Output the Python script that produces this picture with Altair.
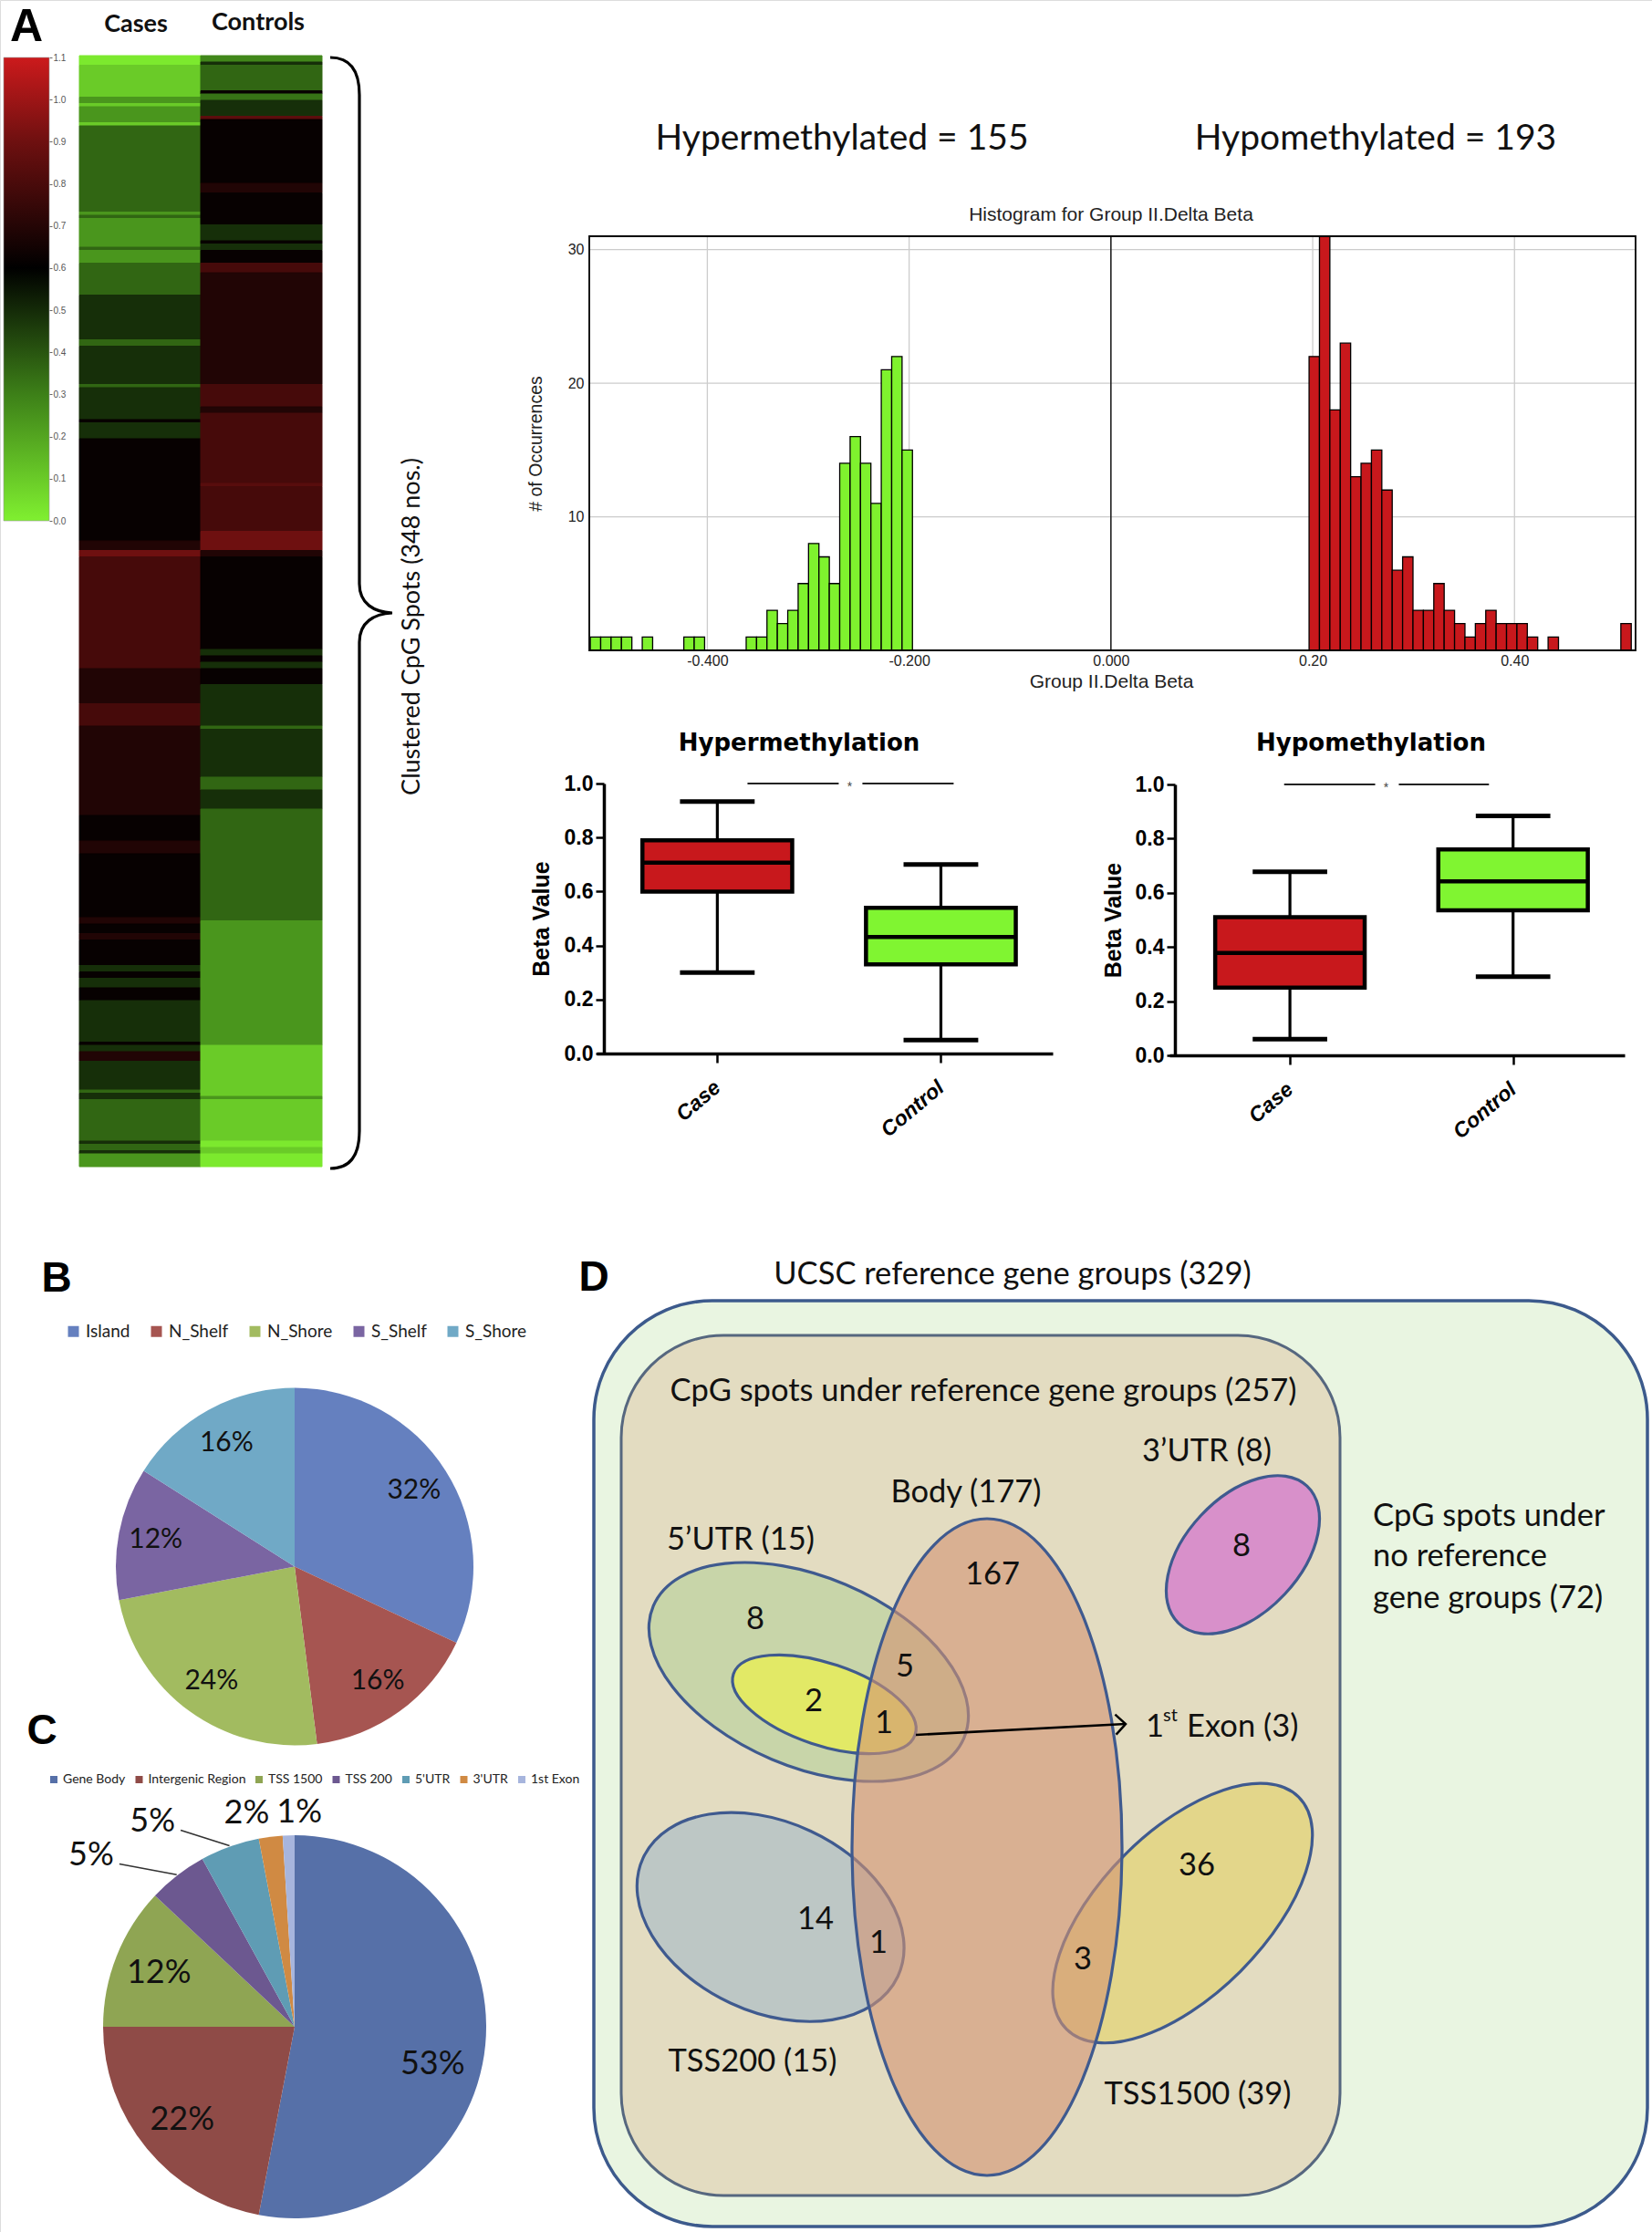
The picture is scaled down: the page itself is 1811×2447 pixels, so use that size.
import altair as alt
import pandas as pd

W, H = 1811, 2447
CAL = "Lato, 'Open Sans', sans-serif"
ARIAL = "'Liberation Sans', Arial, sans-serif"
BOXF = "'DejaVu Sans', sans-serif"
INK = "#111111"
RED = "#c8181c"
GREEN = "#80f531"

# ====================== DATA ======================
# Panel A heat map: runs of consecutive CpG spots (top -> bottom) and their beta value
HEAT_COLUMNS = ["Cases", "Controls"]
N_SPOTS = 348
CASE_RUN_ROWS = [3, 10, 2, 1, 5, 1, 27, 1, 1, 9, 1, 4, 10, 14, 2, 12, 1, 10, 1, 5,
                 32, 3, 2, 35, 11, 7, 28, 8, 4, 20, 2, 3, 2, 8, 2, 2, 3, 4, 13, 1,
                 2, 3, 9, 1, 2, 13, 1, 2, 1, 4]
CASE_RUN_VALUES = [0.02, 0.10, 0.24, 0.10, 0.24, 0.10, 0.36, 0.24, 0.36, 0.24,
                   0.36, 0.24, 0.36, 0.49, 0.36, 0.49, 0.36, 0.49, 0.62, 0.49,
                   0.62, 0.69, 0.90, 0.79, 0.69, 0.79, 0.69, 0.62, 0.69, 0.62,
                   0.69, 0.62, 0.69, 0.62, 0.49, 0.62, 0.49, 0.62, 0.49, 0.62,
                   0.49, 0.69, 0.49, 0.36, 0.49, 0.36, 0.49, 0.36, 0.49, 0.24]
CTRL_RUN_ROWS = [2, 1, 8, 1, 2, 5, 1, 20, 3, 10, 5, 1, 2, 4, 3, 35, 7, 2, 22, 1,
                 14, 6, 2, 29, 2, 2, 2, 5, 13, 1, 15, 4, 6, 35, 39, 16, 1, 13, 2, 2, 4]
CTRL_RUN_VALUES = [0.28, 0.49, 0.36, 0.62, 0.33, 0.49, 0.85, 0.62, 0.69, 0.62,
                   0.49, 0.62, 0.49, 0.62, 0.79, 0.69, 0.79, 0.69, 0.79, 0.84,
                   0.79, 0.90, 0.69, 0.62, 0.49, 0.62, 0.49, 0.62, 0.49, 0.36,
                   0.49, 0.36, 0.49, 0.36, 0.24, 0.10, 0.24, 0.10, 0.02, 0.10, 0.02]
COLORBAR_STOPS = [0.0, 0.3, 0.6, 0.9, 1.1]
COLORBAR_COLORS = ["#80f030", "#3d8018", "#000000", "#6e1010", "#cc1a1c"]
COLORBAR_TICKS = [0.0, 0.1, 0.2, 0.3, 0.4, 0.5, 0.6, 0.7, 0.8, 0.9, 1.0, 1.1]

# Histogram of Group II delta beta
HIST_BIN_WIDTH = 0.0103
HYPER_FIRST_BIN = -0.516
HYPO_FIRST_BIN = 0.1964
HYPER_COUNTS = [1, 1, 1, 1, 0, 1, 0, 0, 0, 1, 1, 0, 0, 0, 0, 1, 1, 3, 2, 3, 5, 8, 7, 5,
                14, 16, 14, 11, 21, 22, 15]
HYPO_COUNTS = [22, 31, 18, 23, 13, 14, 15, 12, 6, 7, 3, 3, 5, 3, 2, 1, 2, 3, 2, 2, 2, 1,
               0, 1, 0, 0, 0, 0, 0, 0, 2]
HIST_X_TICKS = [-0.4, -0.2, 0.0, 0.2, 0.4]
HIST_X_LABELS = ["-0.400", "-0.200", "0.000", "0.20", "0.40"]
HIST_Y_TICKS = [10, 20, 30]
HIST_X_DOMAIN = [-0.517, 0.52]
HIST_Y_DOMAIN = [0, 31]

# Box plots (whisker low, Q1, median, Q3, whisker high) for Case / Control
BOX_GROUPS = ["Case", "Control"]
HYPER_BOX = {"lo": [0.30, 0.05], "q1": [0.60, 0.33], "med": [0.707, 0.432],
             "q3": [0.79, 0.54], "hi": [0.933, 0.70]}
HYPO_BOX = {"lo": [0.06, 0.29], "q1": [0.25, 0.535], "med": [0.378, 0.642],
            "q3": [0.51, 0.76], "hi": [0.678, 0.884]}
BOX_Y_TICKS = [0.0, 0.2, 0.4, 0.6, 0.8, 1.0]

# Pie B and pie C
B_CATS = ["Island", "N_Shelf", "N_Shore", "S_Shelf", "S_Shore"]
B_PCT = [32, 16, 24, 12, 16]
B_COLORS = ["#6580bf", "#a65551", "#a2bb60", "#7a65a2", "#70a9c6"]
C_CATS = ["Gene Body", "Intergenic Region", "TSS 1500", "TSS 200", "5'UTR", "3'UTR", "1st Exon"]
C_PCT = [53, 22, 12, 5, 5, 2, 1]
C_COLORS = ["#5670a8", "#8f4b47", "#8fa553", "#6c5890", "#5f9cb4", "#d08a43", "#a7b5dd"]

# Venn D: set totals and region counts
SET_TOTALS = {"UCSC": 329, "REF": 257, "NOREF": 72, "UTR3": 8, "BODY": 177,
              "UTR5": 15, "TSS200": 15, "TSS1500": 39, "EXON": 3}
REGION_COUNTS = {"utr3": 8, "body": 167, "utr5": 8, "utr5_body": 5, "exon": 2,
                 "exon_body": 1, "tss200": 14, "tss200_body": 1, "tss1500": 36,
                 "tss1500_body": 3}


# ====================== HELPERS ======================
def lin(dom, rng):
    return alt.Scale(domain=dom, range=rng, zero=False, nice=False)


ONE = pd.DataFrame({"k": [0]})


def label(text, x, y, size, font=CAL, weight="normal", align="center",
          baseline="middle", angle=None, color=INK, style="normal"):
    props = dict(text=text, font=font, fontSize=size, fontWeight=weight, align=align,
                 baseline=baseline, color=color, fontStyle=style)
    if angle is not None:
        props["angle"] = angle
    return alt.Chart(ONE).mark_text(**props).encode(x=alt.value(x), y=alt.value(y))


layers = []

# ====================== PANEL A ======================
heat_rows = []
for ci, (rows, vals) in enumerate([(CASE_RUN_ROWS, CASE_RUN_VALUES),
                                   (CTRL_RUN_ROWS, CTRL_RUN_VALUES)]):
    start = 0
    for n, v in zip(rows, vals):
        heat_rows.append({"col": HEAT_COLUMNS[ci], "c0": ci, "c1": ci + 1,
                          "r0": start, "r1": start + n, "beta": v})
        start += n
heat_df = pd.DataFrame(heat_rows)
heat_color = alt.Scale(domain=COLORBAR_STOPS, range=COLORBAR_COLORS, interpolate="rgb")
layers.append(alt.Chart(heat_df).mark_rect(strokeWidth=1).encode(
    x=alt.X("c0:Q", scale=lin([0, 2], [87, 353]), axis=None), x2="c1",
    y=alt.Y("r0:Q", scale=lin([0, N_SPOTS], [61, 1279]), axis=None), y2="r1",
    color=alt.Color("beta:Q", scale=heat_color, legend=None),
    stroke=alt.Stroke("beta:Q", scale=heat_color, legend=None),
))

grad = alt.LinearGradient(
    gradient="linear", x1=0, x2=0, y1=1, y2=0,
    stops=[alt.GradientStop(offset=s / COLORBAR_STOPS[-1], color=c)
           for s, c in zip(COLORBAR_STOPS, COLORBAR_COLORS)])
layers.append(alt.Chart(pd.DataFrame({"lo": [0.0], "hi": [1.1]})).mark_rect(
    fill=grad, stroke="#999999", strokeWidth=0.6).encode(
    x=alt.value(4), x2=alt.value(54),
    y=alt.Y("lo:Q", scale=lin([0, 1.1], [571, 63]),
            axis=alt.Axis(orient="right", offset=54 - W, values=COLORBAR_TICKS, format=".1f",
                          grid=False, domain=False, tickSize=3, tickColor="#666666",
                          labelPadding=1, labelFont=ARIAL, labelFontSize=10,
                          labelColor="#555555", title=None, labelFlush=False,
                          labelOverlap=False)),
    y2="hi",
))

# curly brace as a custom symbol path (unit = 610 px)
brace_cmds = [("M", [(-34, -609)]), ("C", [(-12, -609), (-2, -595), (-2, -568)]),
              ("L", [(-2, -32)]), ("C", [(-2, -10), (14, -1), (34, 0)]),
              ("C", [(14, 1), (-2, 10), (-2, 32)]), ("L", [(-2, 568)]),
              ("C", [(-2, 595), (-12, 609), (-34, 609)])]
brace_path = "".join(cmd + " ".join(f"{x / 610:.4f},{y / 610:.4f}" for x, y in pts)
                     for cmd, pts in brace_cmds)
layers.append(alt.Chart(ONE).mark_point(shape=brace_path, filled=False, color="black",
                                        stroke="black", strokeWidth=3.2, size=1220 ** 2,
                                        opacity=1).encode(x=alt.value(396), y=alt.value(672)))
layers.append(label(f"Clustered CpG Spots ({N_SPOTS} nos.)", 452, 687, 27, angle=270))
layers.append(label(HEAT_COLUMNS[0], 149, 27, 27, weight="bold"))
layers.append(label(HEAT_COLUMNS[1], 283, 25, 27, weight="bold"))
layers.append(label("A", 29, 30, 50, font=ARIAL, weight="bold", color="black"))

# ====================== HISTOGRAM ======================
layers.append(label(f"Hypermethylated = {sum(HYPER_COUNTS)}", 923, 152, 39))
layers.append(label(f"Hypomethylated = {sum(HYPO_COUNTS)}", 1508, 152, 39))
layers.append(label("Histogram for Group II.Delta Beta", 1218, 236, 21, font=ARIAL,
                    color="#222222"))


def hx():
    return lin(HIST_X_DOMAIN, [646, 1793])


def hy():
    return lin(HIST_Y_DOMAIN, [713, 259])


bin_rows = []
for first, counts, col in [(HYPER_FIRST_BIN, HYPER_COUNTS, "#7ff22e"),
                           (HYPO_FIRST_BIN, HYPO_COUNTS, RED)]:
    for i, n in enumerate(counts):
        if n > 0:
            bin_rows.append({"x0": first + i * HIST_BIN_WIDTH,
                             "x1": first + (i + 1) * HIST_BIN_WIDTH,
                             "n": n, "base": 0, "c": col})
bins_df = pd.DataFrame(bin_rows)
x_label_expr = " : ".join(
    f"abs(datum.value - ({v})) < 0.001 ? '{s}'" for v, s in zip(HIST_X_TICKS, HIST_X_LABELS)) + " : ''"
hist_xax = alt.Axis(orient="bottom", offset=713 - H, values=HIST_X_TICKS, labelExpr=x_label_expr,
                    grid=False, domain=False, ticks=False, labelPadding=3, labelFont=ARIAL,
                    labelFontSize=16, labelColor="#222222", labelFlush=False, labelOverlap=False,
                    title="Group II.Delta Beta", titleFont=ARIAL, titleFontSize=21,
                    titleFontWeight="normal", titleColor="#222222", titleX=1218, titleY=34,
                    titleBaseline="middle", titleAlign="center")
hist_yax = alt.Axis(orient="left", offset=-646, values=HIST_Y_TICKS, format="d", grid=False,
                    domain=False, ticks=False, labelPadding=6, labelFont=ARIAL, labelFontSize=16,
                    labelColor="#222222", labelFlush=False, title="# of Occurrences",
                    titleFont=ARIAL, titleFontSize=19.5, titleFontWeight="normal",
                    titleColor="#222222", titleX=587 - 646, titleY=486, titleAngle=270,
                    titleBaseline="middle", titleAlign="center")
gx = pd.DataFrame({"v": [t for t in HIST_X_TICKS if t != 0], "y0": HIST_Y_DOMAIN[0],
                   "y1": HIST_Y_DOMAIN[1]})
gy = pd.DataFrame({"v": HIST_Y_TICKS, "x0": HIST_X_DOMAIN[0], "x1": HIST_X_DOMAIN[1]})
gz = pd.DataFrame({"v": [0.0], "y0": [HIST_Y_DOMAIN[0]], "y1": [HIST_Y_DOMAIN[1]]})
gf = pd.DataFrame({"x0": [HIST_X_DOMAIN[0]], "x1": [HIST_X_DOMAIN[1]],
                   "y0": [HIST_Y_DOMAIN[0]], "y1": [HIST_Y_DOMAIN[1]]})
layers += [
    alt.Chart(gx).mark_rule(color="#cccccc", strokeWidth=1.3).encode(
        x=alt.X("v:Q", scale=hx(), axis=None), y=alt.Y("y0:Q", scale=hy(), axis=None), y2="y1"),
    alt.Chart(gy).mark_rule(color="#cccccc", strokeWidth=1.3).encode(
        x=alt.X("x0:Q", scale=hx(), axis=None), x2="x1", y=alt.Y("v:Q", scale=hy(), axis=None)),
    alt.Chart(gz).mark_rule(color="#222222", strokeWidth=1.6).encode(
        x=alt.X("v:Q", scale=hx(), axis=None), y=alt.Y("y0:Q", scale=hy(), axis=None), y2="y1"),
    alt.Chart(bins_df).mark_rect(stroke="black", strokeWidth=1.3).encode(
        x=alt.X("x0:Q", scale=hx(), axis=hist_xax), x2="x1",
        y=alt.Y("n:Q", scale=hy(), axis=hist_yax), y2="base",
        fill=alt.Fill("c:N", scale=None)),
    alt.Chart(gf).mark_rect(fill="white", fillOpacity=0, stroke="black", strokeWidth=1.8).encode(
        x=alt.X("x0:Q", scale=hx(), axis=None), x2="x1",
        y=alt.Y("y0:Q", scale=hy(), axis=None), y2="y1"),
]

# ====================== BOX PLOTS ======================
BOX_HALF = 0.335
CAP_HALF = 0.167
box_label_expr = " : ".join(f"datum.value == {i} ? '{g}'" for i, g in enumerate(BOX_GROUPS)) + " : ''"


def box_panel(stats, x_lo, x_hi, yaxis_x, y_bot, y_top, sig0, sig1, star, ytitle_x):
    def xs():
        return lin([-0.54, 1.50], [x_lo, x_hi])

    def ys():
        return lin([0, 1], [y_bot, y_top])

    df = pd.DataFrame({"g": list(range(len(BOX_GROUPS))), "grp": BOX_GROUPS,
                       "lo": stats["lo"], "q1": stats["q1"], "med": stats["med"],
                       "q3": stats["q3"], "hi": stats["hi"], "fill": [RED, GREEN]})
    df["b0"] = df.g - BOX_HALF
    df["b1"] = df.g + BOX_HALF
    df["c0"] = df.g - CAP_HALF
    df["c1"] = df.g + CAP_HALF
    xax = alt.Axis(orient="bottom", offset=y_bot - H, values=[0, 1], labelExpr=box_label_expr,
                   labelAngle=320, labelAlign="right", labelBaseline="middle", labelPadding=24,
                   labelFont=ARIAL, labelFontStyle="italic", labelFontWeight="bold",
                   labelFontSize=23, labelColor="black", domainColor="black", domainWidth=3.5,
                   tickColor="black", tickWidth=2.5, tickSize=10, grid=False, title=None,
                   labelFlush=False, labelOverlap=False)
    yax = alt.Axis(orient="left", offset=-yaxis_x, values=BOX_Y_TICKS, format=".1f", grid=False,
                   domainColor="black", domainWidth=3.5, tickColor="black", tickWidth=2.5,
                   tickSize=9, labelPadding=3, labelFont=ARIAL, labelFontWeight="bold",
                   labelFontSize=23, labelColor="black", labelFlush=False,
                   title="Beta Value", titleFont=ARIAL, titleFontSize=25, titleFontWeight="bold",
                   titleColor="black", titleX=ytitle_x - yaxis_x, titleY=(y_bot + y_top) / 2,
                   titleAngle=270, titleBaseline="middle", titleAlign="center")
    sig = pd.DataFrame({"s0": sig0, "s1": sig1, "yy": [1.0, 1.0]})
    st = pd.DataFrame({"s": [star], "yy": [1.0]})
    return [
        alt.Chart(df).mark_rule(color="black", strokeWidth=3.2).encode(
            x=alt.X("g:Q", scale=xs(), axis=xax), y=alt.Y("lo:Q", scale=ys(), axis=yax), y2="hi"),
        alt.Chart(df).mark_rect(stroke="black", strokeWidth=4.5).encode(
            x=alt.X("b0:Q", scale=xs(), axis=None), x2="b1",
            y=alt.Y("q1:Q", scale=ys(), axis=None), y2="q3", fill=alt.Fill("fill:N", scale=None)),
        alt.Chart(df).mark_rule(color="black", strokeWidth=4.5).encode(
            x=alt.X("b0:Q", scale=xs(), axis=None), x2="b1", y=alt.Y("med:Q", scale=ys(), axis=None)),
        alt.Chart(df).mark_rule(color="black", strokeWidth=5).encode(
            x=alt.X("c0:Q", scale=xs(), axis=None), x2="c1", y=alt.Y("lo:Q", scale=ys(), axis=None)),
        alt.Chart(df).mark_rule(color="black", strokeWidth=5).encode(
            x=alt.X("c0:Q", scale=xs(), axis=None), x2="c1", y=alt.Y("hi:Q", scale=ys(), axis=None)),
        alt.Chart(sig).mark_rule(color="#222222", strokeWidth=1.8).encode(
            x=alt.X("s0:Q", scale=xs(), axis=None), x2="s1", y=alt.Y("yy:Q", scale=ys(), axis=None)),
        alt.Chart(st).mark_text(text="*", fontSize=14, color="#444444", font=ARIAL, dy=4).encode(
            x=alt.X("s:Q", scale=xs(), axis=None), y=alt.Y("yy:Q", scale=ys(), axis=None)),
    ]


layers += box_panel(HYPER_BOX, 654, 1154, 662, 1155, 859, [0.135, 0.649], [0.543, 1.057],
                    0.592, 593)
layers += box_panel(HYPO_BOX, 1282, 1781, 1288, 1157, 860, [-0.026, 0.488], [0.382, 0.892],
                    0.431, 1220)
layers.append(label("Hypermethylation", 876, 815, 26, font=BOXF, weight="bold", color="black"))
layers.append(label("Hypomethylation", 1503, 815, 26, font=BOXF, weight="bold", color="black"))

# ====================== PIE B ======================
dfB = pd.DataFrame({"cat": B_CATS, "pct": B_PCT, "idx": list(range(len(B_CATS)))})
B_CX, B_CY, B_R = 323, 1717.5, 196
layers.append(alt.Chart(dfB).mark_arc().encode(
    theta=alt.Theta("pct:Q", stack=True), order=alt.Order("idx:Q"),
    color=alt.Color("cat:N", scale=alt.Scale(domain=B_CATS, range=B_COLORS),
                    legend=alt.Legend(orient="none", legendX=71, legendY=1450,
                                      direction="horizontal", title=None, symbolType="square",
                                      symbolSize=144, symbolStrokeWidth=0, labelFont=CAL,
                                      labelFontSize=19, labelColor="#222222", labelOffset=4,
                                      columnPadding=19, padding=0, labelLimit=0)),
    x=alt.value(B_CX), y=alt.value(B_CY), radius=alt.value(B_R),
))
layers.append(alt.Chart(dfB).transform_calculate(lab="datum.pct + '%'").mark_text(
    font=CAL, fontSize=30, color=INK).encode(
    theta=alt.Theta("pct:Q", stack=True), order=alt.Order("idx:Q"), text="lab:N",
    x=alt.value(B_CX), y=alt.value(B_CY), radius=alt.value(155),
))
layers.append(label("B", 62, 1402, 46, font=ARIAL, weight="bold", color="black"))

# ====================== PIE C ======================
dfC = pd.DataFrame({"cat": C_CATS, "pct": C_PCT, "idx": list(range(len(C_CATS)))})
C_CX, C_CY, C_R = 323, 2222, 210
layers.append(alt.Chart(dfC).mark_arc().encode(
    theta=alt.Theta("pct:Q", stack=True), order=alt.Order("idx:Q"),
    color=alt.Color("cat:N", scale=alt.Scale(domain=C_CATS, range=C_COLORS),
                    legend=alt.Legend(orient="none", legendX=52, legendY=1944,
                                      direction="horizontal", title=None, symbolType="square",
                                      symbolSize=64, symbolStrokeWidth=0, labelFont=CAL,
                                      labelFontSize=14, labelColor="#222222", labelOffset=3,
                                      columnPadding=7.5, padding=0, labelLimit=0)),
    x=alt.value(C_CX), y=alt.value(C_CY), radius=alt.value(C_R),
))


def pieC_labels(filter_expr, radius, align, dx, dy):
    return alt.Chart(dfC).transform_calculate(lab="datum.pct + '%'").mark_text(
        font=CAL, fontSize=36, color=INK, align=align, dx=dx, dy=dy).encode(
        theta=alt.Theta("pct:Q", stack=True), order=alt.Order("idx:Q"),
        text=alt.Text("lab:N"),
        opacity=alt.condition(filter_expr, alt.value(1), alt.value(0)),
        x=alt.value(C_CX), y=alt.value(C_CY), radius=alt.value(radius),
    )


layers.append(pieC_labels("datum.pct >= 10 && datum.pct < 50", 160, "center", 0, 0))
layers.append(pieC_labels("datum.pct >= 50", 160, "center", -8, 26))
layers.append(pieC_labels("datum.pct == 5", 245, "right", -48, 6))
layers.append(pieC_labels("datum.cat == '3\\'UTR'", 245, "right", 3, 9))
layers.append(pieC_labels("datum.cat == '1st Exon'", 245, "left", -12, 10))

layers.append(alt.Chart(dfC).transform_window(
    cum="sum(pct)", sort=[alt.SortField("idx")], frame=[None, 0]
).transform_calculate(
    mid="(datum.cum - datum.pct / 2) / 100 * 2 * PI"
).transform_filter("datum.pct == 5").transform_calculate(
    lx=f"{C_CX} + 245 * sin(datum.mid) - 42",
    ly=f"{C_CY} - 245 * cos(datum.mid) + 15",
    ex=f"{C_CX} + {C_R + 1} * sin(datum.mid)",
    ey=f"{C_CY} - {C_R + 1} * cos(datum.mid)",
).mark_rule(color="#333333", strokeWidth=1.6).encode(
    x=alt.X("lx:Q", scale=None, axis=None), x2="ex",
    y=alt.Y("ly:Q", scale=None, axis=None), y2="ey",
))
layers.append(label("C", 46, 1898, 46, font=ARIAL, weight="bold", color="black"))

# ====================== VENN D ======================
def vx():
    return lin([0, W], [0, W])


def vy():
    return lin([0, H], [0, H])


outer = pd.DataFrame({"x0": [651], "x1": [1806], "y0": [1426], "y1": [2441],
                      "fill": ["#e9f5e1"], "stroke": ["#3c5a8c"]})
inner = pd.DataFrame({"x0": [681], "x1": [1469], "y0": [1464], "y1": [2407],
                      "fill": ["#e3dcc1"], "stroke": ["#56677f"]})
for box_df, rad, sw in [(outer, 130, 3.5), (inner, 112, 3)]:
    layers.append(alt.Chart(box_df).mark_rect(cornerRadius=rad, strokeWidth=sw).encode(
        x=alt.X("x0:Q", scale=vx(), axis=None), x2="x1",
        y=alt.Y("y0:Q", scale=vy(), axis=None), y2="y1",
        fill=alt.Fill("fill:N", scale=None), stroke=alt.Stroke("stroke:N", scale=None)))

K = 0.5523


def ellipse_path(r):
    return (f"M1,0C1,{K * r:.4f},{K:.4f},{r:.4f},0,{r:.4f}"
            f"C{-K:.4f},{r:.4f},-1,{K * r:.4f},-1,0"
            f"C-1,{-K * r:.4f},{-K:.4f},{-r:.4f},0,{-r:.4f}"
            f"C{K:.4f},{-r:.4f},1,{-K * r:.4f},1,0Z")


# layout: (set, cx, cy, semi-major, semi-minor, rotation, fill, fill opacity)
ELLIPSES = [
    ("UTR3", 1362.5, 1704.5, 103, 63, 313, "#d890ca", 1.0),
    ("TSS200", 844.7, 2101.7, 154, 104, 25, "#bdc7c5", 1.0),
    ("TSS1500", 1296.4, 2097.4, 180, 90, 315, "#e3d68a", 1.0),
    ("UTR5", 886.5, 1833, 185, 104, 23, "#c8d5a9", 1.0),
    ("EXON", 903.6, 1868.5, 105, 45, 18.5, "#e2e966", 1.0),
    ("BODY", 1082, 2025, 360, 148, 90, "#d29373", 0.6),
]
ell_df = pd.DataFrame([{"set": s, "cx": cx, "cy": cy, "path": ellipse_path(b / a),
                        "size": (2 * a) ** 2, "ang": ang, "fill": f, "fo": fo}
                       for s, cx, cy, a, b, ang, f, fo in ELLIPSES])
layers.append(alt.Chart(ell_df).mark_point(filled=True, stroke="#3f5a8f", strokeWidth=3.2,
                                           opacity=1).encode(
    x=alt.X("cx:Q", scale=vx(), axis=None), y=alt.Y("cy:Q", scale=vy(), axis=None),
    shape=alt.Shape("path:N", scale=None), size=alt.Size("size:Q", scale=None),
    angle=alt.Angle("ang:Q", scale=None), fill=alt.Fill("fill:N", scale=None),
    fillOpacity=alt.FillOpacity("fo:Q", scale=None),
))

arrow = pd.DataFrame({"x0": [1004], "x1": [1234], "y0": [1902], "y1": [1890]})
layers.append(alt.Chart(arrow).mark_rule(color="black", strokeWidth=2.5).encode(
    x=alt.X("x0:Q", scale=vx(), axis=None), x2="x1", y=alt.Y("y0:Q", scale=vy(), axis=None), y2="y1"))
layers.append(alt.Chart(arrow).mark_point(shape="M-1,-1L0,0L-1,1", filled=False, color="black",
                                          strokeWidth=2.5, size=484, angle=357, opacity=1).encode(
    x=alt.X("x1:Q", scale=vx(), axis=None), y=alt.Y("y1:Q", scale=vy(), axis=None)))

T = SET_TOTALS
R = REGION_COUNTS
venn_center = pd.DataFrame([
    (f"UCSC reference gene groups ({T['UCSC']})", 1110, 1398),
    (f"CpG spots under reference gene groups ({T['REF']})", 1078, 1526),
    (f"3’UTR ({T['UTR3']})", 1323, 1592),
    (str(R["utr3"]), 1361, 1696),
    (f"Body ({T['BODY']})", 1059, 1637),
    (str(R["body"]), 1088, 1727),
    (f"5’UTR ({T['UTR5']})", 812, 1689),
    (str(R["utr5"]), 828, 1776),
    (str(R["utr5_body"]), 992, 1828),
    (str(R["exon"]), 892, 1866),
    (str(R["exon_body"]), 969, 1890),
    (str(R["tss200"]), 894, 2105),
    (str(R["tss200_body"]), 963, 2131),
    (f"TSS200 ({T['TSS200']})", 825, 2261),
    (str(R["tss1500"]), 1312, 2046),
    (str(R["tss1500_body"]), 1187, 2149),
    (f"TSS1500 ({T['TSS1500']})", 1313, 2297),
], columns=["t", "x", "y"])
venn_left = pd.DataFrame([
    ("CpG spots under", 1505, 1663),
    ("no reference", 1505, 1707),
    (f"gene groups ({T['NOREF']})", 1505, 1753),
    ("1", 1256, 1894),
    (f"Exon ({T['EXON']})", 1301, 1894),
], columns=["t", "x", "y"])
for tdf, al in [(venn_center, "center"), (venn_left, "left")]:
    layers.append(alt.Chart(tdf).mark_text(font=CAL, fontSize=34.5, color=INK, align=al,
                                           baseline="middle").encode(
        x=alt.X("x:Q", scale=vx(), axis=None), y=alt.Y("y:Q", scale=vy(), axis=None), text="t:N"))
layers.append(label("st", 1275, 1881, 20, align="left"))
layers.append(label("D", 651, 1401, 46, font=ARIAL, weight="bold", color="black"))

# ====================== COMPOSE ======================
chart = alt.layer(*layers).properties(
    width=W, height=H, padding=0,
    autosize=alt.AutoSizeParams(type="none"),
).resolve_scale(
    x="independent", y="independent", color="independent", stroke="independent",
    theta="independent",
).resolve_axis(x="independent", y="independent").resolve_legend(
    color="independent"
).configure_view(stroke=None).configure(font=CAL)

chart.save("out.html", embed_options={"renderer": "svg", "actions": False})
